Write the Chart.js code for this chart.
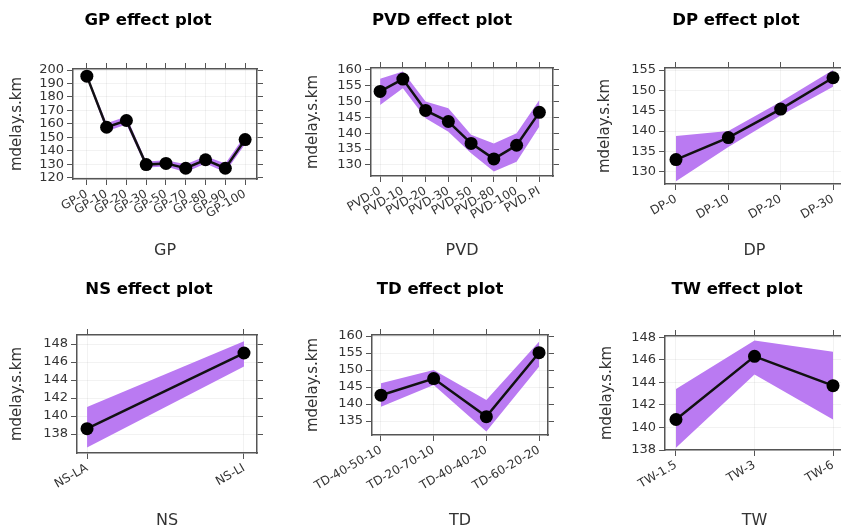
<!DOCTYPE html>
<html><head><meta charset="utf-8">
<script src="https://cdn.jsdelivr.net/npm/chart.js@4.4.1/dist/chart.umd.min.js"></script>
<style>
html,body{margin:0;padding:0;background:#fff;overflow:hidden;width:841px;height:529px;position:relative;}
canvas{position:absolute;}
</style></head><body>
<script>
// ---- data ----
const gpLabels = ['GP-0','GP-10','GP-20','GP-30','GP-50','GP-70','GP-80','GP-90','GP-100'];
const gpFit    = [195.5, 157.5, 162.5, 129.7, 130.6, 127.0, 133.3, 127.0, 148.3];
const gpLower  = [194.0, 154.5, 159.5, 127.5, 128.3, 124.0, 130.5, 124.0, 145.0];
const gpUpper  = [197.0, 160.5, 165.5, 132.0, 133.0, 130.0, 136.0, 130.5, 151.5];
const gpTicks  = [120,130,140,150,160,170,180,190,200];

const pvdLabels = ['PVD-0','PVD-10','PVD-20','PVD-30','PVD-50','PVD-80','PVD-100','PVD.PI'];
const pvdFit    = [153.2, 157.1, 147.2, 143.7, 136.8, 131.9, 136.2, 146.6];
const pvdLower  = [148.9, 154.2, 144.7, 140.5, 133.7, 127.9, 131.0, 142.1];
const pvdUpper  = [157.2, 159.5, 150.0, 147.9, 139.5, 136.8, 140.0, 150.5];
const pvdTicks  = [130,135,140,145,150,155,160];

const dpLabels = ['DP-0','DP-10','DP-20','DP-30'];
const dpFit    = [133.0, 138.4, 145.4, 153.1];
const dpLower  = [127.7, 136.1, 143.8, 150.9];
const dpUpper  = [138.8, 140.0, 147.2, 155.0];
const dpTicks  = [130,135,140,145,150,155];

const nsLabels = ['NS-LA','NS-LI'];
const nsFit    = [138.6, 147.0];
const nsLower  = [136.5, 145.5];
const nsUpper  = [141.0, 148.3];
const nsTicks  = [138,140,142,144,146,148];

const tdLabels = ['TD-40-50-10','TD-20-70-10','TD-40-40-20','TD-60-20-20'];
const tdFit    = [142.6, 147.5, 136.3, 155.1];
const tdLower  = [139.2, 145.6, 131.9, 151.0];
const tdUpper  = [146.1, 150.0, 141.2, 158.3];
const tdTicks  = [135,140,145,150,155,160];

const twLabels = ['TW-1.5','TW-3','TW-6'];
const twFit    = [140.7, 146.3, 143.7];
const twLower  = [138.2, 144.7, 140.7];
const twUpper  = [143.4, 147.7, 146.7];
const twTicks  = [138,140,142,144,146,148];

// ---- layout (positions/styles) ----
const BAND = 'rgb(186,122,242)';
const AXC = '#555';
const TXT = '#333';
const FONT = 'DejaVu Sans';

function panel(p) {
  const c = document.createElement('canvas');
  c.width = p.W; c.height = p.H;
  c.style.left = p.L + 'px'; c.style.top = p.T + 'px';
  c.style.width = p.W + 'px'; c.style.height = p.H + 'px';
  document.body.appendChild(c);
  const titleSize = 16.5, titleLH = 19.8, padBottom = 4;
  const titleBlock = p.titlePadTop + titleLH + padBottom;
  const pts = arr => arr.map((v, i) => ({x: i, y: v}));
  const xTickList = () => p.labels.map((_, i) => ({value: i}));
  const yTickList = () => p.yTicks.map(v => ({value: v}));
  const border = {display: true, color: AXC, width: 1.5};
  new Chart(c, {
    type: 'line',
    data: {
      datasets: [
        {data: pts(p.upper), borderWidth: 0, pointRadius: 0, fill: false, order: 2, tension: 0},
        {data: pts(p.lower), borderWidth: 0, pointRadius: 0, fill: '-1', backgroundColor: BAND, order: 1, tension: 0},
        {data: pts(p.fit), borderColor: '#111', borderWidth: 2.5, pointRadius: 6.5, pointBackgroundColor: '#000',
         pointBorderWidth: 0, fill: false, order: 0, tension: 0, clip: false}
      ]
    },
    options: {
      responsive: false, animation: false, devicePixelRatio: 1,
      layout: {padding: 0, autoPadding: false},
      events: [],
      plugins: {
        legend: {display: false}, tooltip: {enabled: false},
        title: {display: true, text: p.title, color: '#000',
                font: {family: FONT, weight: 'bold', size: titleSize, lineHeight: 1.2},
                padding: {top: p.titlePadTop, bottom: padBottom}}
      },
      scales: {
        x: {
          type: 'linear', position: 'bottom', min: p.xMin, max: p.xMax,
          afterBuildTicks: s => { s.ticks = xTickList(); },
          afterFit: s => { s.height = p.T + p.H - p.box.b; },
          ticks: {autoSkip: false, minRotation: 30, maxRotation: 30, color: TXT, padding: 2,
                  font: {family: FONT, size: 12},
                  callback: v => p.labels[Math.round(v)]},
          grid: {color: 'rgba(0,0,0,0.05)', tickColor: AXC, tickLength: 6, lineWidth: 1},
          border: border,
          title: {display: true, text: p.xTitle, color: TXT, font: {family: FONT, size: 16}, padding: 4.4}
        },
        x2: {
          type: 'linear', position: 'top', min: p.xMin, max: p.xMax,
          afterBuildTicks: s => { s.ticks = xTickList(); },
          afterFit: s => { s.height = p.box.t - p.T - titleBlock; },
          ticks: {display: false},
          grid: {drawOnChartArea: false, tickColor: AXC, tickLength: 6},
          border: border
        },
        y: {
          type: 'linear', position: 'left', min: p.yMin, max: p.yMax,
          afterBuildTicks: s => { s.ticks = yTickList(); },
          afterFit: s => { s.width = p.box.l - p.L; },
          ticks: {autoSkip: false, color: TXT, padding: 3, font: {family: FONT, size: 13}},
          grid: {color: 'rgba(0,0,0,0.05)', tickColor: AXC, tickLength: 6},
          border: border,
          title: {display: true, text: 'mdelay.s.km', color: TXT, font: {family: FONT, size: 15}, padding: 4}
        },
        y2: {
          type: 'linear', position: 'right', min: p.yMin, max: p.yMax,
          afterBuildTicks: s => { s.ticks = yTickList(); },
          afterFit: s => { s.width = p.L + p.W - p.box.r; },
          ticks: {display: false, autoSkip: false},
          grid: {drawOnChartArea: false, tickColor: AXC, tickLength: 6},
          border: border
        }
      }
    }
  });
}

panel({title: 'GP effect plot', xTitle: 'GP', labels: gpLabels, fit: gpFit, lower: gpLower, upper: gpUpper, yTicks: gpTicks,
       L: 4, T: 0, W: 288, H: 265, titlePadTop: 11, box: {l: 73, r: 257, t: 69, b: 179},
       xMin: -0.7, xMax: 8.6, yMin: 119, yMax: 200.8});
panel({title: 'PVD effect plot', xTitle: 'PVD', labels: pvdLabels, fit: pvdFit, lower: pvdLower, upper: pvdUpper, yTicks: pvdTicks,
       L: 300, T: 0, W: 284, H: 265, titlePadTop: 11, box: {l: 371, r: 553, t: 68, b: 176},
       xMin: -0.4, xMax: 7.6, yMin: 126.5, yMax: 160.6});
panel({title: 'DP effect plot', xTitle: 'DP', labels: dpLabels, fit: dpFit, lower: dpLower, upper: dpUpper, yTicks: dpTicks,
       L: 592, T: 0, W: 288, H: 265, titlePadTop: 11, box: {l: 665, r: 844, t: 68, b: 184},
       xMin: -0.21, xMax: 3.21, yMin: 127, yMax: 155.5});
panel({title: 'NS effect plot', xTitle: 'NS', labels: nsLabels, fit: nsFit, lower: nsLower, upper: nsUpper, yTicks: nsTicks,
       L: 4, T: 265, W: 290, H: 270, titlePadTop: 15, box: {l: 77, r: 257, t: 335, b: 453},
       xMin: -0.064, xMax: 1.083, yMin: 135.9, yMax: 149});
panel({title: 'TD effect plot', xTitle: 'TD', labels: tdLabels, fit: tdFit, lower: tdLower, upper: tdUpper, yTicks: tdTicks,
       L: 300, T: 265, W: 280, H: 270, titlePadTop: 15, box: {l: 372, r: 548, t: 335, b: 435},
       xMin: -0.17, xMax: 3.17, yMin: 130.9, yMax: 160.3});
panel({title: 'TW effect plot', xTitle: 'TW', labels: twLabels, fit: twFit, lower: twLower, upper: twUpper, yTicks: twTicks,
       L: 594, T: 265, W: 286, H: 270, titlePadTop: 15, box: {l: 665, r: 844, t: 336, b: 450},
       xMin: -0.14, xMax: 2.14, yMin: 138, yMax: 148.1});
</script>
</body></html>
